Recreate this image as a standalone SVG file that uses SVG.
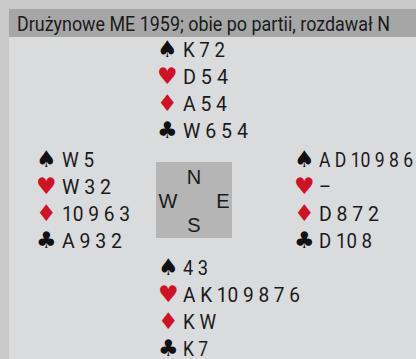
<svg xmlns="http://www.w3.org/2000/svg" width="416" height="359" viewBox="0 0 416 359">
<style>
.t{font-family:Roboto,"Liberation Sans",sans-serif;font-size:21px;fill:#1a1a1a}
.s{font-family:"DejaVu Sans",sans-serif;font-size:23px}
.b{fill:#111}
.r{fill:#cc1426}
.h{font-family:Roboto,"Liberation Sans",sans-serif;font-size:20px;fill:#1a1a1a}
.c{font-family:"Liberation Sans",sans-serif;font-size:20px;fill:#1a1a1a;text-anchor:middle}
</style>
<rect x="0" y="0" width="416" height="359" fill="#c9c9c9"/>
<rect x="9" y="37" width="407" height="322" fill="#dadbdd"/>
<rect x="9" y="9" width="407" height="28" fill="#a6a6a6"/>
<text class="h" x="17" y="31" textLength="373" lengthAdjust="spacingAndGlyphs">Drużynowe ME 1959; obie po partii, rozdawał N</text>
<g id="north">
<text class="s b" x="157" y="57">♠</text><text class="t" x="183" y="57" textLength="42" lengthAdjust="spacingAndGlyphs">K 7 2</text>
<text class="s r" x="157" y="84">♥</text><text class="t" x="183" y="84" textLength="45" lengthAdjust="spacingAndGlyphs">D 5 4</text>
<text class="s r" x="157" y="111">♦</text><text class="t" x="183" y="111" textLength="44" lengthAdjust="spacingAndGlyphs">A 5 4</text>
<text class="s b" x="157" y="138">♣</text><text class="t" x="183" y="138" textLength="65" lengthAdjust="spacingAndGlyphs">W 6 5 4</text>
</g>
<g id="west">
<text class="s b" x="36" y="167">♠</text><text class="t" x="62" y="167" textLength="32" lengthAdjust="spacingAndGlyphs">W 5</text>
<text class="s r" x="36" y="194">♥</text><text class="t" x="62" y="194" textLength="49" lengthAdjust="spacingAndGlyphs">W 3 2</text>
<text class="s r" x="36" y="221">♦</text><text class="t" x="62" y="221" textLength="68" lengthAdjust="spacingAndGlyphs">10 9 6 3</text>
<text class="s b" x="36" y="248">♣</text><text class="t" x="62" y="248" textLength="60" lengthAdjust="spacingAndGlyphs">A 9 3 2</text>
</g>
<g id="east">
<text class="s b" x="294" y="167">♠</text><text class="t" x="319" y="167" textLength="94" lengthAdjust="spacingAndGlyphs">A D 10 9 8 6</text>
<text class="s r" x="294" y="194">♥</text><text class="t" x="319" y="194" textLength="12" lengthAdjust="spacingAndGlyphs">–</text>
<text class="s r" x="294" y="221">♦</text><text class="t" x="319" y="221" textLength="60" lengthAdjust="spacingAndGlyphs">D 8 7 2</text>
<text class="s b" x="294" y="248">♣</text><text class="t" x="319" y="248" textLength="53" lengthAdjust="spacingAndGlyphs">D 10 8</text>
</g>
<g id="south">
<text class="s b" x="158" y="275">♠</text><text class="t" x="183" y="275" textLength="25" lengthAdjust="spacingAndGlyphs">4 3</text>
<text class="s r" x="158" y="302">♥</text><text class="t" x="183" y="302" textLength="117" lengthAdjust="spacingAndGlyphs">A K 10 9 8 7 6</text>
<text class="s r" x="158" y="329">♦</text><text class="t" x="183" y="329" textLength="33" lengthAdjust="spacingAndGlyphs">K W</text>
<text class="s b" x="158" y="356">♣</text><text class="t" x="183" y="356" textLength="25" lengthAdjust="spacingAndGlyphs">K 7</text>
</g>
<g id="compass">
<rect x="156" y="162" width="76" height="76" fill="#b5b5b5"/>
<text class="c" x="194" y="184">N</text>
<text class="c" x="168" y="208">W</text>
<text class="c" x="223" y="208">E</text>
<text class="c" x="194" y="232">S</text>
</g>
<g id="connectors"></g>
</svg>
